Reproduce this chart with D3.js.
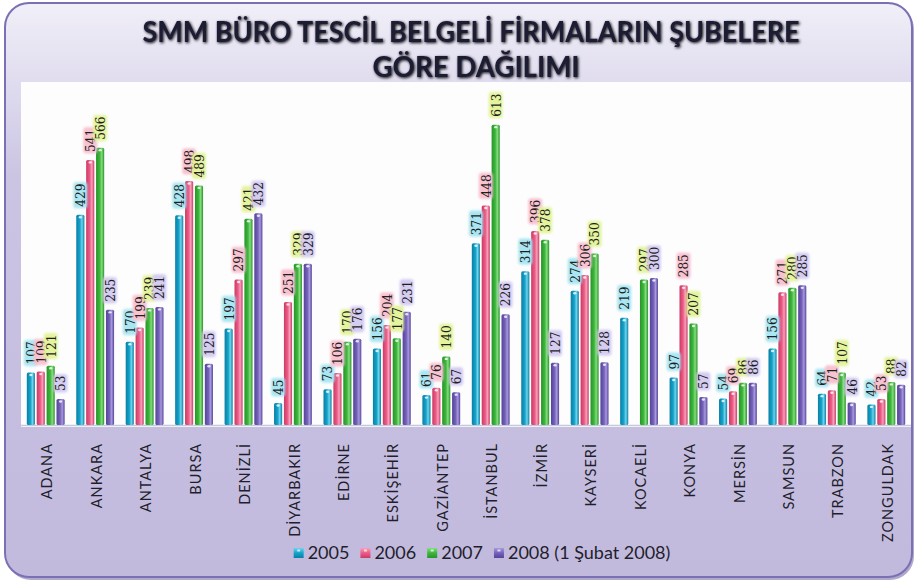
<!DOCTYPE html>
<html>
<head>
<meta charset="utf-8">
<script src="https://cdn.jsdelivr.net/npm/d3@7"></script>
<style>
  body { margin: 0; background: #fff; }
  svg { display: block; }
</style>
</head>
<body>
<div id="chart"></div>
<script>
// city list and the yearly counts
var cities = ["ADANA","ANKARA","ANTALYA","BURSA","DENİZLİ","DİYARBAKIR","EDİRNE","ESKİŞEHİR","GAZİANTEP","İSTANBUL","İZMİR","KAYSERİ","KOCAELİ","KONYA","MERSİN","SAMSUN","TRABZON","ZONGULDAK"];
var y2005 = [107,429,170,428,197,45,73,156,61,371,314,274,219,97,54,156,64,42];
var y2006 = [109,541,199,498,297,251,106,204,76,448,396,306,null,285,69,271,71,53];
var y2007 = [121,566,239,489,421,329,170,177,140,613,378,350,297,207,86,280,107,88];
var y2008 = [53,235,241,125,432,329,176,231,67,226,127,128,300,57,86,285,46,82];
var seriesNames = ["2005","2006","2007","2008 (1 Şubat 2008)"];
var titleLines = ["SMM BÜRO TESCİL BELGELİ FİRMALARIN ŞUBELERE","GÖRE DAĞILIMI"];

var barColor  = ["#14a3cb","#ec5c87","#3db63d","#7562b9"];
var darkColor = ["#0b7fa3","#c93a65","#279427","#55449a"];
var lightColor= ["#6fd3ec","#f7a0bb","#86dc7e","#a898de"];
var haloColor = ["#a9e6f3","#f8c2d1","#e3f49c","#d5ccf2"];

var series = [y2005, y2006, y2007, y2008];

var W = 917, H = 582;
var plot = {left: 21, right: 911, top: 82, bottom: 425};

var svg = d3.select("#chart").append("svg").attr("width", W).attr("height", H);
var defs = svg.append("defs");

// frame background
var bg = defs.append("linearGradient").attr("id","bg").attr("x1",0).attr("y1",0).attr("x2",0).attr("y2",1);
bg.append("stop").attr("offset","0%").attr("stop-color","#f1eff8");
bg.append("stop").attr("offset","14%").attr("stop-color","#e0dcef");
bg.append("stop").attr("offset","30%").attr("stop-color","#cbc4e3");
bg.append("stop").attr("offset","100%").attr("stop-color","#c2badd");

barColor.forEach(function(c,i){
  var g = defs.append("linearGradient").attr("id","bar"+i).attr("x1",0).attr("y1",0).attr("x2",1).attr("y2",0);
  g.append("stop").attr("offset","0%").attr("stop-color",darkColor[i]);
  g.append("stop").attr("offset","45%").attr("stop-color",c);
  g.append("stop").attr("offset","70%").attr("stop-color",lightColor[i]);
  g.append("stop").attr("offset","100%").attr("stop-color",darkColor[i]);
  var v = defs.append("linearGradient").attr("id","leg"+i).attr("x1",0).attr("y1",0).attr("x2",0).attr("y2",1);
  v.append("stop").attr("offset","0%").attr("stop-color",lightColor[i]);
  v.append("stop").attr("offset","50%").attr("stop-color",c);
  v.append("stop").attr("offset","100%").attr("stop-color",darkColor[i]);
});

var blur = defs.append("filter").attr("id","halo").attr("x","-30%").attr("y","-30%").attr("width","160%").attr("height","160%");
blur.append("feGaussianBlur").attr("stdDeviation",1.3);

var tshadow = defs.append("filter").attr("id","tshadow").attr("x","-10%").attr("y","-30%").attr("width","120%").attr("height","160%");
tshadow.append("feGaussianBlur").attr("in","SourceAlpha").attr("stdDeviation",1.6).attr("result","b");
tshadow.append("feOffset").attr("in","b").attr("dx",0.5).attr("dy",1).attr("result","o");
var fm = tshadow.append("feMerge");
fm.append("feMergeNode").attr("in","o");
fm.append("feMergeNode").attr("in","SourceGraphic");

// frame, with a soft darker edge at bottom/right
svg.append("rect").attr("x",7).attr("y",5).attr("width",907).attr("height",575)
  .attr("rx",24).attr("fill","#6e62a3").attr("opacity",0.55);
svg.append("rect").attr("x",5).attr("y",3).attr("width",907).attr("height",574)
  .attr("rx",24).attr("fill","url(#bg)").attr("stroke","#7d6fb3").attr("stroke-width",2);

svg.append("rect").attr("x",plot.left).attr("y",plot.top)
  .attr("width",plot.right-plot.left).attr("height",plot.bottom-plot.top+2)
  .attr("fill","#fdfdfd");

// title
var title = svg.append("g").attr("filter","url(#tshadow)");
[[titleLines[0],471,42],[titleLines[1],476,77]].forEach(function(t){
  title.append("text").attr("x",t[1]).attr("y",t[2])
    .attr("text-anchor","middle")
    .style("font-family","Lato, 'Open Sans', sans-serif")
    .style("font-weight","bold").style("font-size","28px")
    .attr("fill","#1b1a33").text(t[0]);
});
// squeeze line widths to the reference spans
var tl = title.selectAll("text").nodes();
if (tl[0].getComputedTextLength() > 657) d3.select(tl[0]).attr("textLength",657).attr("lengthAdjust","spacingAndGlyphs");
if (tl[1].getComputedTextLength() > 207) d3.select(tl[1]).attr("textLength",207).attr("lengthAdjust","spacingAndGlyphs");

// scales
var x0 = d3.scaleBand().domain(cities).range([plot.left, plot.right]).paddingInner(0.235).paddingOuter(0.1175);
var x1 = d3.scaleBand().domain(d3.range(4)).range([0, x0.bandwidth()]).paddingInner(0.18);
var y = d3.scaleLinear().domain([0,700]).range([plot.bottom, plot.top]);

// baseline
svg.append("line").attr("x1",plot.left).attr("x2",plot.right)
  .attr("y1",plot.bottom+0.5).attr("y2",plot.bottom+0.5)
  .attr("stroke","#c3cadd").attr("stroke-width",1.5);

var rows = [];
cities.forEach(function(c,ci){
  series.forEach(function(s,si){
    if (s[ci] != null) rows.push({city:c, s:si, v:s[ci]});
  });
});

var bars = svg.append("g").selectAll("g").data(rows).enter().append("g");
bars.append("rect")
  .attr("x", d => x0(d.city) + x1(d.s))
  .attr("y", d => y(d.v))
  .attr("width", x1.bandwidth())
  .attr("height", d => y(0) - y(d.v))
  .attr("rx",1.5)
  .attr("fill", d => "url(#bar"+d.s+")");
bars.append("ellipse")
  .attr("cx", d => x0(d.city) + x1(d.s) + x1.bandwidth()/2)
  .attr("cy", d => y(d.v) + 2.5)
  .attr("rx",1.6).attr("ry",1.2)
  .attr("fill","#ffffff").attr("opacity",0.8);

// value labels, rotated, with coloured halo
var lab = svg.append("g").selectAll("g").data(rows).enter().append("g")
  .attr("transform", d => "translate(" + (x0(d.city) + x1(d.s) + x1.bandwidth()/2) + "," + (y(d.v) - 8) + ") rotate(-90)");
lab.append("rect").attr("class","hl");
lab.append("text")
  .attr("dy","0.36em")
  .style("font-family","'DejaVu Serif Condensed', 'DejaVu Serif', serif")
  .style("font-size","13.5px")
  .attr("fill","#1e1e1e")
  .text(d => d.v);
lab.each(function(d){
  var w = d3.select(this).select("text").node().getComputedTextLength();
  d3.select(this).select("rect.hl")
    .attr("x",-1.5).attr("y",-7).attr("width",w+3).attr("height",14).attr("rx",3)
    .attr("fill",haloColor[d.s]).attr("filter","url(#halo)");
});

// category labels
svg.append("g").selectAll("text").data(cities).enter().append("text")
  .attr("transform", d => "translate(" + (x0(d) + x0.bandwidth()/2 + 1.5) + ",443) rotate(-90)")
  .attr("text-anchor","end")
  .attr("dy","0.35em")
  .style("font-family","Lato, 'Open Sans', sans-serif")
  .style("font-size","14.5px")
  .style("letter-spacing","1px")
  .attr("fill","#1f1f2c")
  .text(d => d);

// legend
var leg = svg.append("g");
var lx = 0;
seriesNames.forEach(function(n,i){
  var it = leg.append("g").attr("transform","translate(" + lx + ",0)");
  it.append("rect").attr("x",0).attr("y",-5).attr("width",10).attr("height",10)
    .attr("fill","url(#leg"+i+")");
  it.append("rect").attr("x",3.5).attr("y",-3.5).attr("width",3).attr("height",2).attr("fill","#fff").attr("opacity",0.7);
  var t = it.append("text").attr("x",14).attr("dy","0.35em")
    .style("font-family","Lato, 'Open Sans', sans-serif")
    .style("font-size","18px").attr("fill","#1f1f2c").text(n);
  lx += 14 + t.node().getComputedTextLength() + 11;
});
var legW = lx - 11;
leg.attr("transform","translate(" + (482 - legW/2) + ",553)");
</script>
</body>
</html>
